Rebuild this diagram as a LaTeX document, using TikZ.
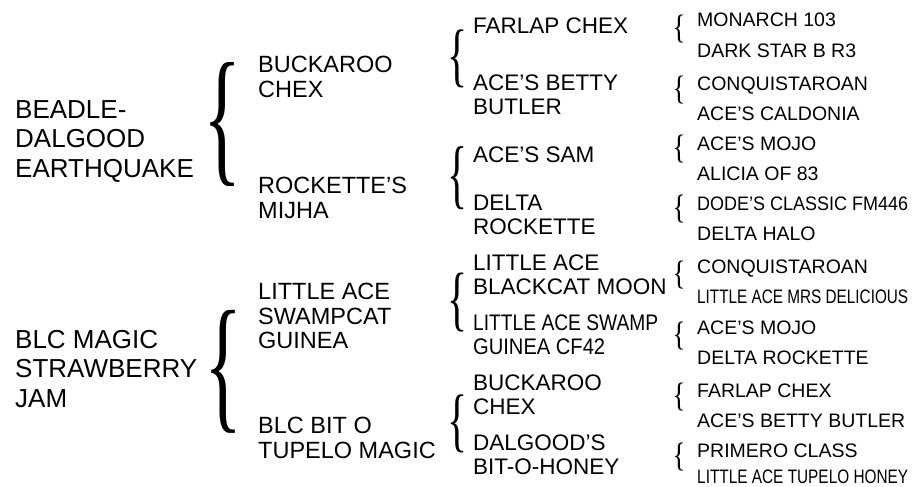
\documentclass[tikz,border=0pt]{standalone}
\usepackage{fontspec}
\setmainfont{Liberation Sans}
\newfontfamily\bracefont{Liberation Serif}
\usepackage{graphicx}
\newcommand\squeeze[2]{\resizebox{#1}{\height}{#2}}
\newcommand\curly[2]{\resizebox*{#1}{#2}{\bracefont\{}}
\begin{document}
\begin{tikzpicture}[x=1pt,y=-1pt,
  horse/.style={anchor=north west,inner sep=0pt,align=left},
  gen1/.style={horse,font=\fontsize{26}{29.5}\selectfont},
  gen2/.style={horse,font=\fontsize{23.5}{24.5}\selectfont},
  gen3/.style={horse,font=\fontsize{22.5}{23.5}\selectfont},
  gen4/.style={anchor=base west,inner sep=0pt,font=\fontsize{19.5}{20}\selectfont},
  brace/.style={inner sep=0pt}]
  \path[use as bounding box,fill=white](0,0) rectangle (924,487);
  \node[gen1] (beadle) at (15,100) {BEADLE-\\DALGOOD\\EARTHQUAKE};
  \node[gen1] (jam) at (15,330) {BLC MAGIC\\STRAWBERRY\\JAM};
  \node[brace] (b1) at (223,125) {\curly{38pt}{124pt}};
  \node[brace] (b2) at (224,371.5) {\curly{38pt}{123pt}};
  \node[gen2] (buckaroo) at (258,56) {BUCKAROO\\CHEX};
  \node[gen2] (mijha) at (258,177) {ROCKETTE’S\\MIJHA};
  \node[gen2] (swampcat) at (258,283) {LITTLE ACE\\SWAMPCAT\\GUINEA};
  \node[gen2] (tupelo) at (258,417) {BLC BIT O\\TUPELO MAGIC};
  \node[brace] (b3) at (457,59) {\curly{20pt}{58pt}};
  \node[brace] (b4) at (457,178.5) {\curly{20pt}{63pt}};
  \node[brace] (b5) at (457,302.5) {\curly{20pt}{59pt}};
  \node[brace] (b6) at (457,424) {\curly{20pt}{58pt}};
  \node[gen3] (farlap) at (473,18) {FARLAP CHEX};
  \node[gen3] (betty) at (473,75) {ACE’S BETTY\\BUTLER};
  \node[gen3] (acesam) at (473,147) {ACE’S SAM};
  \node[gen3] (deltarock) at (473,195) {DELTA\\ROCKETTE};
  \node[gen3] (blackcat) at (473,255) {LITTLE ACE\\BLACKCAT MOON};
  \node[gen3] (cf42) at (473,315) {\squeeze{185pt}{LITTLE ACE SWAMP}\\\squeeze{132pt}{GUINEA CF42}};
  \node[gen3] (buckaroo2) at (473,375) {BUCKAROO\\CHEX};
  \node[gen3] (bitohoney) at (473,435) {DALGOOD’S\\BIT-O-HONEY};
  \foreach \y [count=\i] in {29,90,149,209,275,336,397,457}
    \node[brace] (s\i) at (679,\y) {\curly{13pt}{28pt}};
  \node[gen4] (monarch) at (697,27) {MONARCH 103};
  \node[gen4] (darkstar) at (697,58) {DARK STAR B R3};
  \node[gen4] (conq1) at (697,90) {CONQUISTAROAN};
  \node[gen4] (caldonia) at (697,120) {ACE’S CALDONIA};
  \node[gen4] (mojo1) at (697,150) {ACE’S MOJO};
  \node[gen4] (alicia) at (697,180) {ALICIA OF 83};
  \node[gen4] (dode) at (697,210) {\squeeze{211pt}{DODE’S CLASSIC FM446}};
  \node[gen4] (halo) at (697,240) {DELTA HALO};
  \node[gen4] (conq2) at (697,273) {CONQUISTAROAN};
  \node[gen4] (delicious) at (697,303) {\squeeze{211pt}{LITTLE ACE MRS DELICIOUS}};
  \node[gen4] (mojo2) at (697,334) {ACE’S MOJO};
  \node[gen4] (deltarock2) at (697,364) {DELTA ROCKETTE};
  \node[gen4] (farlap2) at (697,397) {FARLAP CHEX};
  \node[gen4] (betty2) at (697,427) {ACE’S BETTY BUTLER};
  \node[gen4] (primero) at (697,457) {PRIMERO CLASS};
  \node[gen4] (honey) at (697,483.5) {\squeeze{211pt}{LITTLE ACE TUPELO HONEY}};
\end{tikzpicture}
\end{document}
